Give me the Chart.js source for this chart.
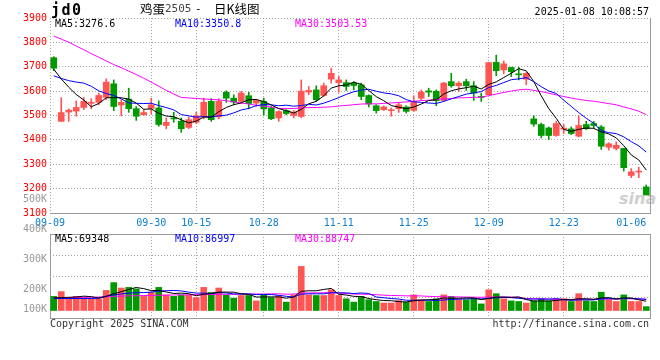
<!DOCTYPE html>
<html><head><meta charset="utf-8">
<script src="https://cdn.jsdelivr.net/npm/chart.js@4.4.1/dist/chart.umd.min.js"></script>
<style>
html,body{margin:0;padding:0;background:#fff;}
#wrap{position:relative;width:660px;height:360px;overflow:hidden;}
canvas{position:absolute;left:0;z-index:1;}
.t{position:absolute;white-space:pre;font-family:'DejaVu Sans Mono',monospace;font-size:10px;line-height:12px;z-index:2;}
.cjk{position:absolute;white-space:pre;font-family:'Noto Sans CJK SC',sans-serif;font-size:12.5px;line-height:14px;color:#000;z-index:2;}
</style></head><body>
<div id="wrap">
  <div class="t" style="left:51px;top:2px;font-size:15px;line-height:16px;font-weight:bold;letter-spacing:1.5px;">jd0</div>
  <div class="cjk" style="left:140px;top:2px;">鸡蛋</div>
  <div class="t" style="left:165px;top:3px;font-size:11px;color:#444;">2505</div>
  <div class="t" style="left:195px;top:3px;font-size:11px;">-</div>
  <div class="cjk" style="left:214px;top:2px;">日K线图</div>
  <div class="t" style="right:11px;top:6px;">2025-01-08 10:08:57</div>
  <div class="t" style="left:55px;top:17.5px;color:#000;">MA5:3276.6</div>
  <div class="t" style="left:175px;top:17.5px;color:#0000ff;">MA10:3350.8</div>
  <div class="t" style="left:295px;top:17.5px;color:#ff00ff;">MA30:3503.53</div>
  <div class="t" style="left:55px;top:232.5px;color:#000;">MA5:69348</div>
  <div class="t" style="left:175px;top:232.5px;color:#0000ff;">MA10:86997</div>
  <div class="t" style="left:295px;top:232.5px;color:#ff00ff;">MA30:88747</div>
  <div class="t" style="left:50px;top:317.5px;color:#333;">Copyright 2025 SINA.COM</div>
  <div class="t" style="right:11px;top:317.5px;color:#333;">http://finance.sina.com.cn</div>
  <div style="position:absolute;left:619px;top:189px;font:italic bold 16px 'DejaVu Sans',sans-serif;color:#cfcfcf;z-index:0;">sina</div>
  <canvas id="cp" width="660" height="232" style="top:0"></canvas>
  <canvas id="cv" width="660" height="170" style="top:190px"></canvas>
</div>
<script>
// ---------- data ----------
const dates = ['09-09','09-10','09-11','09-12','09-13','09-18','09-19','09-20','09-23','09-24',
 '09-25','09-26','09-27','09-30','10-08','10-09','10-10','10-11','10-14','10-15',
 '10-16','10-17','10-18','10-21','10-22','10-23','10-24','10-25','10-28','10-29',
 '10-30','10-31','11-01','11-04','11-05','11-06','11-07','11-08','11-11','11-12',
 '11-13','11-14','11-15','11-18','11-19','11-20','11-21','11-22','11-25','11-26',
 '11-27','11-28','11-29','12-02','12-03','12-04','12-05','12-06','12-09','12-10',
 '12-11','12-12','12-13','12-16','12-17','12-18','12-19','12-20','12-23','12-24',
 '12-25','12-26','12-27','12-30','12-31','01-02','01-03','01-06','01-07','01-08'];

const open = [3737,3476,3514,3518,3533,3550,3554,3574,3630,3543,
 3567,3528,3503,3529,3531,3459,3490,3476,3451,3472,
 3494,3558,3494,3595,3571,3558,3581,3551,3558,3531,
 3490,3520,3500,3496,3596,3605,3582,3649,3635,3635,
 3633,3626,3582,3540,3524,3520,3528,3535,3521,3571,
 3601,3599,3562,3639,3622,3639,3622,3578,3585,3718,
 3687,3697,3671,3649,3486,3463,3449,3418,3444,3445,
 3415,3463,3467,3453,3370,3365,3365,3254,3268,3207];

const close = [3694,3512,3522,3533,3558,3553,3582,3637,3537,3554,
 3528,3497,3512,3544,3463,3472,3486,3446,3483,3499,
 3554,3483,3558,3571,3555,3592,3549,3562,3527,3487,
 3516,3508,3514,3600,3603,3565,3622,3673,3646,3619,
 3623,3578,3547,3520,3535,3524,3544,3517,3554,3596,
 3596,3561,3633,3622,3633,3622,3592,3574,3717,3684,
 3712,3680,3667,3673,3465,3418,3418,3467,3446,3426,
 3459,3446,3459,3374,3384,3378,3286,3269,3272,3174];

const high = [3741,3573,3527,3560,3574,3569,3592,3650,3646,3565,
 3612,3537,3524,3571,3560,3490,3513,3490,3494,3513,
 3571,3569,3569,3601,3585,3599,3595,3567,3571,3537,
 3520,3524,3520,3646,3619,3622,3633,3694,3660,3646,
 3639,3633,3585,3544,3540,3531,3551,3540,3581,3605,
 3612,3605,3636,3673,3639,3649,3639,3592,3718,3748,
 3724,3698,3698,3676,3499,3469,3453,3476,3463,3453,
 3499,3476,3476,3459,3388,3392,3365,3282,3288,3215];

const low = [3684,3476,3476,3497,3524,3528,3544,3565,3520,3499,
 3513,3480,3501,3506,3456,3445,3472,3431,3446,3467,
 3486,3476,3486,3554,3544,3551,3527,3537,3501,3483,
 3476,3503,3490,3490,3585,3558,3578,3633,3595,3603,
 3605,3565,3535,3510,3520,3497,3513,3510,3517,3565,
 3578,3540,3558,3616,3599,3603,3562,3558,3585,3663,
 3671,3660,3646,3626,3456,3408,3401,3415,3426,3422,
 3412,3442,3449,3361,3358,3358,3272,3245,3245,3174];

const ma5 = [3690,3650,3616,3586,3563.8,3535.6,3549.6,3572.6,3573.4,3572.6,
 3567.6,3550.6,3525.6,3527.0,3508.8,3497.6,3495.4,3482.2,3470.0,3477.2,
 3493.6,3493.0,3515.4,3533.0,3544.2,3551.8,3565.0,3565.8,3557.0,3543.4,
 3528.2,3520.0,3510.4,3525.0,3548.2,3558.0,3580.8,3612.6,3621.8,3625.0,
 3636.6,3627.8,3602.6,3577.4,3560.6,3540.8,3534.0,3528.0,3534.8,3547.0,
 3561.4,3564.8,3588.0,3601.6,3609.0,3614.2,3620.4,3608.6,3627.6,3637.8,
 3655.8,3673.4,3692.0,3683.2,3639.4,3580.6,3528.2,3488.2,3442.8,3435.0,
 3443.2,3448.8,3447.2,3432.8,3424.4,3408.2,3376.2,3338.2,3317.8,3275.8];

const ma10 = [3663,3652,3643,3637,3633,3620,3601,3590,3582,3568.2,
 3551.6,3550.1,3549.1,3550.2,3540.7,3532.6,3523.0,3503.9,3498.5,3493.0,
 3495.6,3494.2,3498.8,3501.5,3510.7,3522.7,3529.0,3540.6,3545.0,3543.8,
 3540.0,3542.5,3538.1,3541.0,3545.8,3543.1,3550.4,3561.5,3573.4,3586.6,
 3597.3,3604.3,3607.6,3599.6,3592.8,3588.7,3580.9,3565.3,3556.1,3553.8,
 3551.1,3549.4,3558.0,3568.2,3578.0,3587.8,3592.6,3598.3,3614.6,3623.4,
 3635.0,3646.9,3650.3,3655.4,3638.6,3618.2,3600.8,3590.1,3563.0,3537.2,
 3511.9,3488.5,3467.7,3437.8,3429.7,3425.7,3412.5,3392.7,3375.3,3350.1];

const ma30 = [3826,3813,3801,3785,3770,3754,3739,3724,3709,3696,
 3682,3668,3653,3637,3620,3603,3588,3574,3572,3570,
 3568,3566,3564,3561,3556,3551,3547,3542,3538,3535.0,
 3529.1,3528.9,3528.7,3530.9,3532.4,3532.8,3534.1,3535.3,3539.0,3541.1,
 3544.3,3547.0,3548.2,3547.4,3549.8,3551.5,3553.4,3555.8,3558.2,3561.4,
 3562.8,3565.4,3567.9,3569.6,3572.2,3573.2,3574.6,3575.0,3581.4,3587.9,
 3594.5,3600.2,3605.3,3607.7,3603.1,3598.2,3591.4,3584.6,3577.9,3571.5,
 3566.0,3561.6,3558.7,3553.8,3548.8,3543.9,3535.3,3527.0,3517.6,3503.6];

// volume, read against the panel's own K axis
const volumeK = [177,193,169,177,173,169,169,197,223,205,
 207,202,177,191,207,182,177,182,182,173,
 207,190,205,182,171,180,180,162,182,173,
 180,158,182,277,182,180,180,199,180,169,
 158,177,166,160,155,155,163,158,182,166,
 160,169,182,177,166,166,169,152,199,186,
 169,162,160,155,162,169,162,169,169,160,
 186,162,160,191,166,160,182,160,160,143];

const volMa5K = [172,173,174,175,177.8,176.2,171.4,177.0,186.2,192.6,
 200.2,206.8,202.8,196.4,196.8,191.8,186.8,187.8,186.0,179.2,
 184.2,186.8,191.4,191.4,191.0,185.6,183.6,175.0,175.0,175.4,
 175.4,171.0,175.0,194.0,195.8,195.8,200.2,203.6,184.2,181.6,
 177.2,176.6,170.0,166.0,163.2,162.6,159.8,158.2,162.6,164.8,
 165.8,167.0,171.8,170.8,170.8,172.0,172.0,166.0,170.4,174.4,
 175.0,173.6,175.2,166.4,161.6,161.6,161.6,163.4,166.2,165.8,
 169.2,169.2,167.4,171.8,173.0,167.8,171.8,171.8,165.6,161.0];

const volMa10K = [170,170,170,170,170,170,171,178,182,185.2,
 188.2,189.1,189.9,191.3,194.7,196.0,196.8,195.3,191.2,188.0,
 188.0,186.8,189.6,188.7,185.1,184.9,185.2,183.2,183.2,183.2,
 180.5,177.3,175.0,184.5,185.6,185.6,185.6,189.3,189.1,188.7,
 186.5,188.4,186.8,175.1,172.4,169.9,168.2,164.1,164.3,164.0,
 164.2,163.4,165.0,166.7,167.8,168.9,169.5,168.9,170.6,172.6,
 173.5,172.8,170.6,168.4,168.0,168.3,167.6,169.3,166.3,163.7,
 165.4,165.4,165.4,169.0,169.4,168.5,170.5,169.6,168.7,167.0];

const volMa30K = [173,173,173,174,174,174,175,176,177,178,
 179,179,180,180,181,181,182,182,182,183,
 183,183,184,184,184,185,185,185,185,185.5,
 185.6,184.4,184.8,188.2,188.5,188.8,189.2,189.3,187.8,186.6,
 185.0,184.2,183.8,182.8,181.0,180.1,179.7,178.9,178.9,178.6,
 177.1,176.4,175.6,175.4,175.3,174.8,174.4,174.1,174.7,175.1,
 174.7,174.9,174.1,170.1,169.4,169.0,168.4,167.4,167.1,166.8,
 167.7,167.2,167.0,168.0,168.4,168.6,169.2,169.3,168.5,167.8];

const xTickDates = ['09-09','09-30','10-15','10-28','11-11','11-25','12-09','12-23','01-06'];
const priceTicks = [3100,3200,3300,3400,3500,3600,3700,3800,3900];
const volTickValues = [100,200,300,400,500];
const volTickLabels = ['100K','200K','300K','400K','500K'];

// ---------- styling ----------
const RED = '#ff5555', GREEN = '#009900';
const GRID = '#a6a6a6', FRAME = '#9a9a9a';
const MONO = {family:"'DejaVu Sans Mono', monospace", size:10};
const N = dates.length;
const candleColors = close.map((c,i)=> c >= open[i] ? RED : GREEN);
const pts = arr => arr.map((v,i)=>({x:i, y:v}));
const xMin = -0.5, xMax = N - 0.5;

function setXTicks(s){
  s.ticks = xTickDates.map((d,k)=>({value: k === 0 ? xMin : dates.indexOf(d)}));
}
function xAxis(showLabels, height){
  return {
    type:'linear', position:'bottom', min:xMin, max:xMax, offset:false,
    afterBuildTicks: setXTicks,
    afterFit: s => { s.height = height; },
    ticks:{display:showLabels, autoSkip:false, maxRotation:0, padding:4, color:'#0a7fd4', font:MONO,
           callback:(v,i)=> xTickDates[i]},
    grid:{offset:false, drawTicks:false, lineWidth:1,
          color: ctx => ctx.index === xTickDates.length - 1 ? 'rgba(0,0,0,0)' : GRID},
    border:{display:true, color:FRAME, dash:[1,2]}
  };
}
function rightFrame(){
  return {type:'linear', position:'right', min:0, max:1, afterFit:s=>{s.width=0;},
    ticks:{display:false}, grid:{display:false, drawTicks:false}, border:{display:true, color:FRAME}};
}
function line(data, color, yId){
  return {type:'line', data:pts(data), borderColor:color, borderWidth:1, pointRadius:0,
          tension:0, xAxisID:'x', yAxisID:yId, order:0};
}
const common = {responsive:false, animation:false, devicePixelRatio:1, events:[],
  plugins:{legend:{display:false}, tooltip:{enabled:false}}};

// ---------- price chart ----------
new Chart(document.getElementById('cp'), {
  type:'bar',
  data:{datasets:[
    line(ma5,'#000000','y'),
    line(ma10,'#0000ff','y'),
    line(ma30,'#ff00ff','y'),
    {type:'bar', data: open.map((o,i)=>({x:i, y:[o, close[i]]})), backgroundColor:candleColors,
     barThickness:6, minBarLength:1, grouped:false, xAxisID:'x', yAxisID:'y', order:1},
    {type:'bar', data: low.map((l,i)=>({x:i, y:[l, high[i]]})), backgroundColor:candleColors,
     barThickness:1, grouped:false, xAxisID:'x', yAxisID:'y', order:2}
  ]},
  options:Object.assign({}, common, {
    layout:{padding:{top:18, right:10, left:0, bottom:0}},
    scales:{
      x: xAxis(true, 19),
      y: {type:'linear', position:'left', min:priceTicks[0], max:priceTicks[priceTicks.length-1],
          afterBuildTicks: s => { s.ticks = priceTicks.map(v=>({value:v})); },
          afterFit: s => { s.width = 50; },
          ticks:{autoSkip:false, color:'#ff0000', font:MONO, padding:3, callback:v=>String(v)},
          grid:{color:GRID, drawTicks:false},
          border:{display:false, dash:[1,2]}},
      yR: rightFrame()
    }
  })
});

// ---------- volume chart ----------
new Chart(document.getElementById('cv'), {
  type:'bar',
  data:{datasets:[
    line(volMa5K,'#000000','yv'),
    line(volMa10K,'#0000ff','yv'),
    line(volMa30K,'#ff00ff','yv'),
    {type:'bar', data: pts(volumeK), backgroundColor:candleColors, barThickness:6, base:130,
     grouped:false, xAxisID:'x', yAxisID:'yv', order:1}
  ]},
  options:Object.assign({}, common, {
    layout:{padding:{top:44, right:10, left:0, bottom:0}},
    scales:{
      x: xAxis(false, 42),
      xT: {type:'linear', position:'top', min:0, max:1, offset:false, afterFit:s=>{s.height=0;},
           ticks:{display:false}, grid:{display:false, drawTicks:false}, border:{display:true, color:FRAME}},
      yv: {type:'linear', position:'left', min:105, max:385,
           afterBuildTicks: s => { s.ticks = volTickValues.map(v=>({value: Math.max(v, s.min + 30)})); },
           afterFit: s => { s.width = 50; },
           ticks:{autoSkip:false, color:'#999999', font:MONO, padding:3, callback:(v,i)=>volTickLabels[i]},
           grid:{display:false, drawTicks:false},
           border:{display:true, color:FRAME}},
      yg: {type:'linear', position:'left', min:0, max:4,
           afterBuildTicks: s => { s.ticks = [1,2,3].map(v=>({value:v})); },
           afterFit: s => { s.width = 0; },
           ticks:{display:false}, grid:{color:GRID, drawTicks:false},
           border:{display:false, dash:[1,2]}},
      yR: rightFrame()
    }
  })
});
</script>
</body></html>
